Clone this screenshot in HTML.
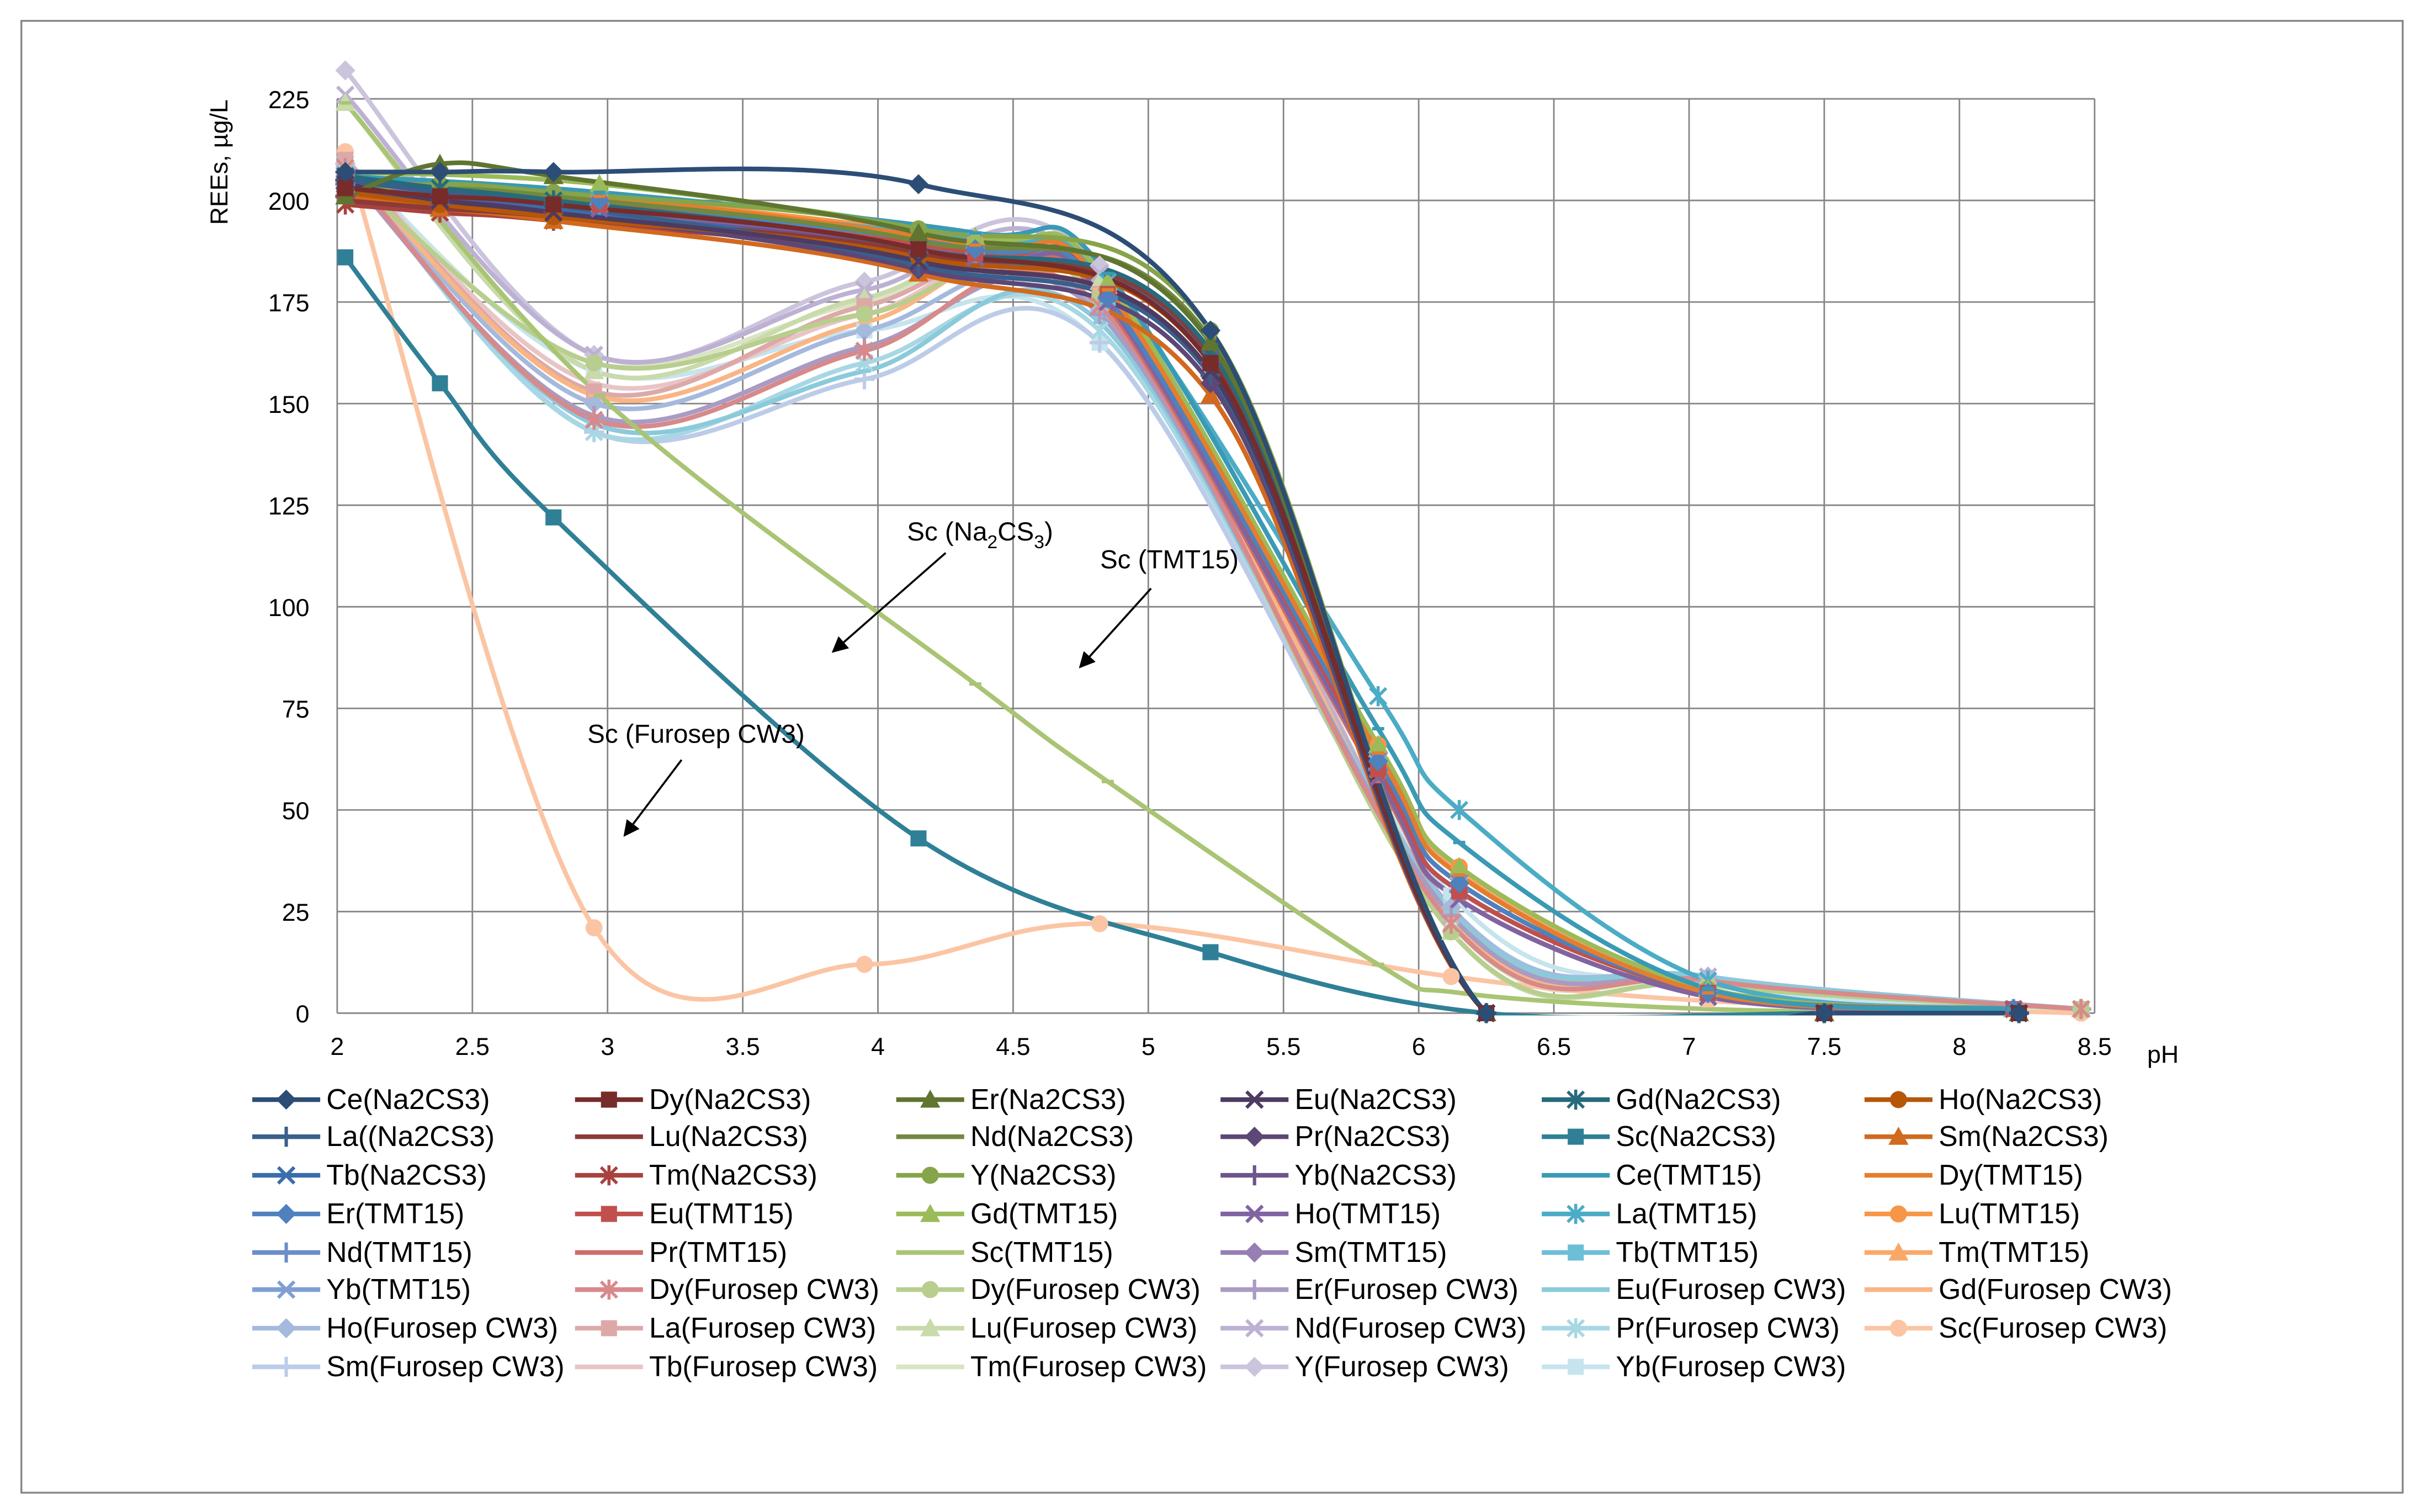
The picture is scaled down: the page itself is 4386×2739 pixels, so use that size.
<!DOCTYPE html>
<html><head><meta charset="utf-8"><title>REEs vs pH</title>
<style>
html,body{margin:0;padding:0;background:#fff;}
svg{display:block;font-family:"Liberation Sans",sans-serif;}
</style></head>
<body>
<svg id="chart" width="4386" height="2739" viewBox="0 0 1567 979" xmlns="http://www.w3.org/2000/svg">
<rect x="0" y="0" width="1567" height="979" fill="#fff"/>
<rect x="13.5" y="13.5" width="1542" height="953" fill="none" stroke="#868686" stroke-width="1.2"/>
<defs><clipPath id="plotclip"><rect x="218" y="40" width="1140" height="617.5"/></clipPath>
<marker id="arr" viewBox="0 0 10 10" refX="9" refY="5" markerWidth="8" markerHeight="8" orient="auto"><path d="M0,0 L10,5 L0,10 z" fill="#000"/></marker></defs>
<g id="grid"></g>
<g id="axes"></g>
<g id="series" clip-path="url(#plotclip)"></g>
<g id="markers"></g>
<text transform="translate(147,105) rotate(-90)" text-anchor="middle" font-size="16">REEs, µg/L</text>
<text x="1390" y="688" font-size="16">pH</text>
<text x="587" y="350" font-size="17">Sc (Na<tspan font-size="12" dy="5">2</tspan><tspan dy="-5">CS</tspan><tspan font-size="12" dy="5">3</tspan><tspan dy="-5">)</tspan></text>
<line x1="612" y1="358" x2="539" y2="422" stroke="#000" stroke-width="1.3" marker-end="url(#arr)"/>
<text x="712" y="368" font-size="17">Sc (TMT15)</text>
<line x1="745" y1="381" x2="699" y2="432" stroke="#000" stroke-width="1.3" marker-end="url(#arr)"/>
<text x="380" y="481" font-size="17">Sc (Furosep CW3)</text>
<line x1="441" y1="492" x2="404" y2="541" stroke="#000" stroke-width="1.3" marker-end="url(#arr)"/>
<g id="legend"></g>
</svg>
<script>
const xTicks=[2,2.5,3,3.5,4,4.5,5,5.5,6,6.5,7,7.5,8,8.5];
const yTicks=[0,25,50,75,100,125,150,175,200,225];
const xNa=[2.03,2.38,2.8,4.15,5.23,6.25,7.5,8.22];
const xTmt=[2.03,2.97,4.36,4.85,5.85,6.15,7.07,8.2];
const xFur=[2.03,2.95,3.95,4.82,6.12,7.07,8.45];
const names=["Ce(Na2CS3)","Dy(Na2CS3)","Er(Na2CS3)","Eu(Na2CS3)","Gd(Na2CS3)","Ho(Na2CS3)","La((Na2CS3)","Lu(Na2CS3)","Nd(Na2CS3)","Pr(Na2CS3)","Sc(Na2CS3)","Sm(Na2CS3)","Tb(Na2CS3)","Tm(Na2CS3)","Y(Na2CS3)","Yb(Na2CS3)",
"Ce(TMT15)","Dy(TMT15)","Er(TMT15)","Eu(TMT15)","Gd(TMT15)","Ho(TMT15)","La(TMT15)","Lu(TMT15)","Nd(TMT15)","Pr(TMT15)","Sc(TMT15)","Sm(TMT15)","Tb(TMT15)","Tm(TMT15)","Yb(TMT15)",
"Dy(Furosep CW3)","Dy(Furosep CW3)","Er(Furosep CW3)","Eu(Furosep CW3)","Gd(Furosep CW3)","Ho(Furosep CW3)","La(Furosep CW3)","Lu(Furosep CW3)","Nd(Furosep CW3)","Pr(Furosep CW3)","Sc(Furosep CW3)","Sm(Furosep CW3)","Tb(Furosep CW3)","Tm(Furosep CW3)","Y(Furosep CW3)","Yb(Furosep CW3)"];
const groups=[0,0,0,0,0,0,0,0,0,0,0,0,0,0,0,0,1,1,1,1,1,1,1,1,1,1,1,1,1,1,1,2,2,2,2,2,2,2,2,2,2,2,2,2,2,2,2];
const valsNa=[
[207,207,207,204,168,0,0,0],[203,201,199,188,160,0,0,0],[201,209,206,192,165,0,0,0],[204,200,197,185,158,0,0,0],
[206,203,200,188,163,0,0,0],[202,199,196,186,160,0,0,0],[205,202,199,184,157,0,0,0],[200,198,196,187,162,0,0,0],
[204,203,201,190,166,0,0,0],[203,200,197,183,155,0,0,0],[186,155,122,43,15,0,0,0],[201,198,195,182,152,0,0,0],
[203,201,198,186,161,0,0,0],[199,197,195,185,158,0,0,0],[202,204,202,193,168,0,0,0],[201,199,197,187,160,0,0,0]];
const valsTmt=[
[206,202,192,182,70,42,6,1],[205,201,189,178,64,34,5,1],[204,200,188,176,62,32,5,1],[205,199,187,177,60,30,5,1],
[207,204,191,180,66,36,6,1],[203,198,186,175,58,28,4,1],[206,200,190,180,78,50,8,1],[205,201,190,178,66,36,6,1],
[204,199,187,176,60,30,5,1],[203,198,185,174,57,28,4,1],[224,152,81,57,12,5,1,0],[206,200,189,178,64,34,5,1],
[205,199,188,176,62,32,5,1],[204,201,190,179,65,35,6,1],[203,199,186,175,60,30,5,1]];
const valsFur=[
[208,146,163,174,22,8,1],[207,160,172,176,20,7,1],[207,147,164,172,24,8,1],[208,145,158,170,25,9,1],
[209,152,170,178,23,8,1],[208,150,168,173,26,9,1],[210,153,174,177,25,8,1],[224,158,176,180,20,7,1],
[226,162,178,182,24,9,1],[209,143,160,168,26,8,1],[212,21,12,22,9,3,0],[209,143,156,165,24,8,1],
[210,155,172,178,20,7,1],[208,160,175,180,22,8,1],[232,162,180,184,24,9,1],[210,158,168,165,29,7,1]];
const colors=["#2C4D75","#772C2A","#5F7530","#4D3B62","#276A7C","#B65708","#3A5F8B","#8B3A37","#71893F","#5C4776","#2F8096","#D2691E",
"#3A6DAA","#A8423F","#86A44A","#6E548D","#3A9AB5","#E47E2E","#4F81BD","#C0504D","#9BBB59","#8064A2","#4BACC6","#F79646",
"#6C8EC9","#CD6C69","#A9C574","#957FB5","#6CBFD6","#F9A86A","#7F9FD3","#D8898A","#B8CE8E","#A99BC2","#8ACADB","#FAB584",
"#A5B9DD","#DDA9A8","#C9DAAB","#BDB1D3","#A8D7E4","#FBC5A4","#BCCCE8","#E8C5C5","#D8E4C3","#CCC4DD","#C5E4ED"];
const markerTypes=["diamond","square","triangle","x","star","circle","plus","dash","dash"];

const NS="http://www.w3.org/2000/svg";
const X0=218,X1=1356,Y0=656,Y1=64;
function xs(v){return X0+(v-2)/(8.5-2)*(X1-X0);}
function ys(v){return Y0-(v/225)*(Y0-Y1);}
function mk(tag,attrs,parent){const e=document.createElementNS(NS,tag);for(const k in attrs)e.setAttribute(k,attrs[k]);parent.appendChild(e);return e;}

const grid=document.getElementById('grid');
xTicks.forEach(t=>{const l=mk('line',{x1:xs(t),x2:xs(t),y1:Y1,y2:Y0,stroke:'#868686','stroke-width':1},grid);

});
yTicks.forEach(t=>{const l=mk('line',{x1:X0,x2:X1,y1:ys(t),y2:ys(t),stroke:'#868686','stroke-width':1},grid);

});
const axes=document.getElementById('axes');
xTicks.forEach(t=>{const tx=mk('text',{x:xs(t),y:Y0+27,'text-anchor':'middle','font-size':16},axes);tx.textContent=String(t);

});
yTicks.forEach(t=>{const tx=mk('text',{x:X0-18,y:ys(t)+6,'text-anchor':'end','font-size':16},axes);tx.textContent=String(t);

});

function crPath(pts){let d="M"+pts[0][0]+","+pts[0][1];
for(let i=0;i<pts.length-1;i++){const p0=pts[i-1]||pts[i],p1=pts[i],p2=pts[i+1],p3=pts[i+2]||p2;const t=6;
d+=" C"+(p1[0]+(p2[0]-p0[0])/t)+","+(p1[1]+(p2[1]-p0[1])/t)+" "+(p2[0]-(p3[0]-p1[0])/t)+","+(p2[1]-(p3[1]-p1[1])/t)+" "+p2[0]+","+p2[1];}
return d;}
function drawMarker(type,cx,cy,col,parent,s){
 let e;
 if(type==="diamond")e=mk('polygon',{points:`${cx},${cy-s} ${cx+s},${cy} ${cx},${cy+s} ${cx-s},${cy}`,fill:col},parent);
 else if(type==="square")e=mk('rect',{x:cx-s*0.8,y:cy-s*0.8,width:s*1.6,height:s*1.6,fill:col},parent);
 else if(type==="triangle")e=mk('polygon',{points:`${cx},${cy-s} ${cx+s},${cy+s*0.8} ${cx-s},${cy+s*0.8}`,fill:col},parent);
 else if(type==="circle")e=mk('circle',{cx:cx,cy:cy,r:s*0.85,fill:col},parent);
 else if(type==="x")e=mk('path',{d:`M${cx-s*0.8},${cy-s*0.8}L${cx+s*0.8},${cy+s*0.8}M${cx+s*0.8},${cy-s*0.8}L${cx-s*0.8},${cy+s*0.8}`,stroke:col,'stroke-width':2.2,fill:'none'},parent);
 else if(type==="star")e=mk('path',{d:`M${cx-s*0.8},${cy-s*0.8}L${cx+s*0.8},${cy+s*0.8}M${cx+s*0.8},${cy-s*0.8}L${cx-s*0.8},${cy+s*0.8}M${cx},${cy-s}L${cx},${cy+s}`,stroke:col,'stroke-width':2,fill:'none'},parent);
 else if(type==="plus")e=mk('path',{d:`M${cx-s},${cy}L${cx+s},${cy}M${cx},${cy-s}L${cx},${cy+s}`,stroke:col,'stroke-width':2.2,fill:'none'},parent);
 else if(type==="dash")e=mk('path',{d:`M${cx-s*0.6},${cy}L${cx+s*0.6},${cy}`,stroke:col,'stroke-width':2.2,fill:'none'},parent);
 return e;}

const seriesG=document.getElementById('series'),markG=document.getElementById('markers'),leg=document.getElementById('legend');
const xsets=[xNa,xTmt,xFur];
for(let i=names.length-1;i>=0;i--){
 const g=groups[i];const xv=xsets[g];
 const vv=g===0?valsNa[i]:(g===1?valsTmt[i-16]:valsFur[i-31]);
 const pts=xv.map((x,k)=>[xs(x),ys(vv[k])]);
 const p=mk('path',{d:crPath(pts),fill:'none',stroke:colors[i],'stroke-width':3,'stroke-linejoin':'round'},seriesG);
 
 
 const mt=markerTypes[i%9];
 pts.forEach(pt=>{const m=drawMarker(mt,pt[0],pt[1],colors[i],markG,6.5);
  if(m){
  }});
}
const colX=[163,372,580,790,998,1207],rowY=[712,736,761,786,811,835,860,885];
names.forEach((n,i)=>{
 const c=i%6,r=Math.floor(i/6);const x=colX[c],y=rowY[r];
 const item=mk('g',{},leg);
 
 
 mk('line',{x1:x,x2:x+44,y1:y,y2:y,stroke:colors[i],'stroke-width':3},item);
 drawMarker(markerTypes[i%9],x+22,y,colors[i],item,6.5);
 const t=mk('text',{x:x+48,y:y+6,'font-size':18.5},item);t.textContent=n;
});
</script>
</body></html>
